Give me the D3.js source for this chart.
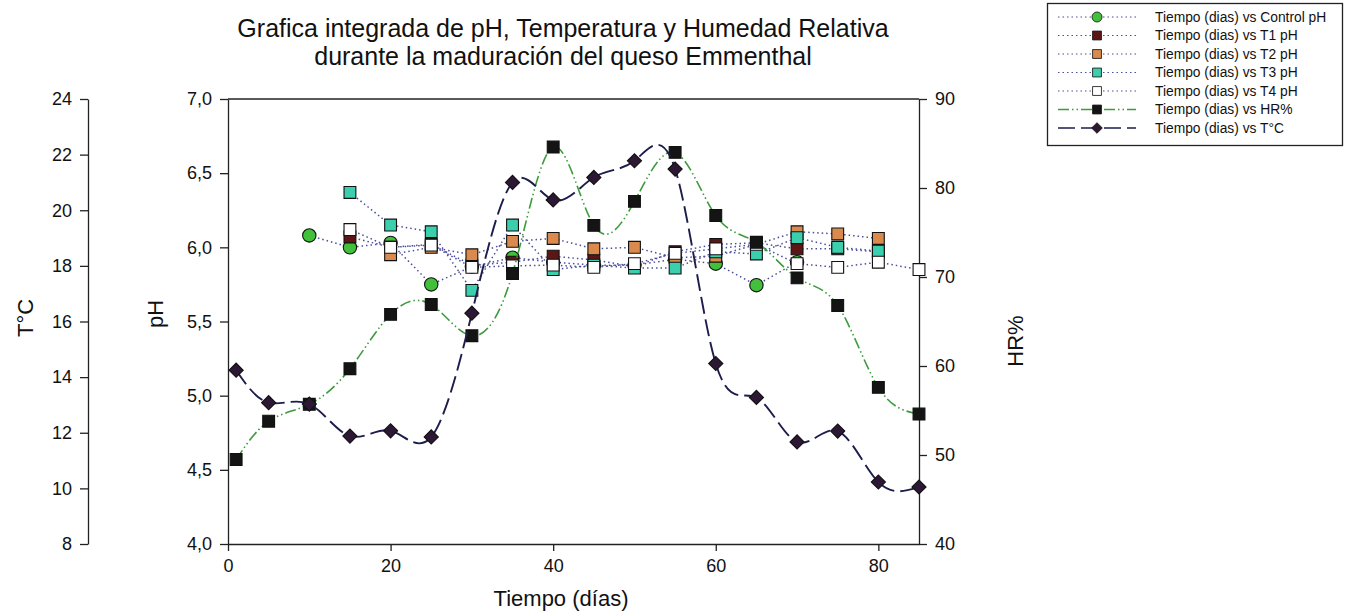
<!DOCTYPE html>
<html>
<head>
<meta charset="utf-8">
<script src="https://cdn.jsdelivr.net/npm/d3@7"></script>
<style>
  body { margin: 0; background: #fff; }
  svg text { font-family: "Liberation Sans", Arial, sans-serif; fill: #111; }
  .axis path, .axis line { stroke: #222; stroke-width: 1.3px; }
  .axis text { font-size: 18px; }
</style>
</head>
<body>
<svg id="chart"></svg>
<script>
// ---- data ----
const controlDays = [10, 15, 20, 25, 30, 35, 40, 45, 50, 55, 60, 65, 70];
const controlPH = [6.08, 6.0, 6.03, 5.75, 5.87, 5.93, 5.9, 5.88, 5.88, 5.92, 5.89, 5.745, 5.9];

const t1Days = [15, 20, 25, 30, 35, 40, 45, 50, 55, 60, 65, 70, 75, 80];
const t1PH = [6.07, 6.0, 6.02, 5.88, 5.9, 5.94, 5.915, 5.87, 5.97, 6.02, 6.03, 5.99, 5.99, 5.97];

const t2Days = [20, 25, 30, 35, 40, 45, 50, 55, 60, 65, 70, 75, 80];
const t2PH = [5.95, 6.0, 5.95, 6.04, 6.06, 5.99, 6.0, 5.93, 5.94, 6.02, 6.105, 6.09, 6.06];

const t3Days = [15, 20, 25, 30, 35, 40, 45, 50, 55, 60, 65, 70, 75, 80];
const t3PH = [6.37, 6.15, 6.105, 5.71, 6.15, 5.85, 5.88, 5.86, 5.86, 5.97, 5.955, 6.065, 6.0, 5.975];

const t4Days = [15, 20, 25, 30, 35, 40, 45, 50, 55, 60, 65, 70, 75, 80, 85];
const t4PH = [6.12, 6.0, 6.015, 5.865, 5.875, 5.88, 5.865, 5.89, 5.96, 5.99, 6.02, 5.89, 5.865, 5.9, 5.85];

const envDays = [1, 5, 10, 15, 20, 25, 30, 35, 40, 45, 50, 55, 60, 65, 70, 75, 80, 85];
const hrValues = [49.5, 53.8, 55.7, 59.7, 65.8, 66.9, 63.4, 70.4, 84.6, 75.8, 78.5, 84, 76.9, 73.9, 69.9, 66.8, 57.6, 54.6];
const tempValues = [14.25, 13.08, 13.03, 11.88, 12.07, 11.85, 16.3, 21.0, 20.37, 21.18, 21.78, 21.48, 14.49, 13.27, 11.67, 12.06, 10.23, 10.05];

const xTicks = [0, 20, 40, 60, 80];
const phTicks = [4.0, 4.5, 5.0, 5.5, 6.0, 6.5, 7.0];
const tempTicks = [8, 10, 12, 14, 16, 18, 20, 22, 24];
const hrTicks = [40, 50, 60, 70, 80, 90];

const titleLines = [
  "Grafica integrada de pH, Temperatura y Humedad Relativa",
  "durante la maduración del queso Emmenthal",
];

// ---- layout ----
const totalWidth = 1351;
const totalHeight = 616;
const plot = { left: 228, right: 919, top: 99, bottom: 544 };
const tempAxisX = 88;

const svg = d3.select("#chart").attr("width", totalWidth).attr("height", totalHeight);

// scales
const xScale = d3.scaleLinear().domain([0, 85]).range([plot.left, plot.right]);
const phScale = d3.scaleLinear().domain([4, 7]).range([plot.bottom, plot.top]);
const tempScale = d3.scaleLinear().domain([8, 24]).range([plot.bottom, plot.top]);
const hrScale = d3.scaleLinear().domain([40, 90]).range([plot.bottom, plot.top]);

const commaFmt = (d) => d3.format(".1f")(d).replace(".", ",");

// frame top line
svg.append("line")
  .attr("x1", plot.left).attr("x2", plot.right)
  .attr("y1", plot.top).attr("y2", plot.top)
  .attr("stroke", "#222").attr("stroke-width", 1.3);

// axes
svg.append("g").attr("class", "axis")
  .attr("transform", `translate(0,${plot.bottom})`)
  .call(d3.axisBottom(xScale).tickValues(xTicks).tickSize(7).tickPadding(5).tickSizeOuter(0))
  .selectAll("text").attr("dy", "0.9em");

svg.append("g").attr("class", "axis")
  .attr("transform", `translate(${plot.left},0)`)
  .call(d3.axisLeft(phScale).tickValues(phTicks).tickFormat(commaFmt).tickSize(8).tickPadding(8).tickSizeOuter(0));

svg.append("g").attr("class", "axis")
  .attr("transform", `translate(${tempAxisX},0)`)
  .call(d3.axisLeft(tempScale).tickValues(tempTicks).tickSize(8).tickPadding(8).tickSizeOuter(0));

svg.append("g").attr("class", "axis")
  .attr("transform", `translate(${plot.right},0)`)
  .call(d3.axisRight(hrScale).tickValues(hrTicks).tickSize(8).tickPadding(8).tickSizeOuter(0));

// axis titles
const axisTitle = (x, y, rot, text) =>
  svg.append("text")
    .attr("transform", `translate(${x},${y}) rotate(${rot})`)
    .attr("text-anchor", "middle")
    .style("font-size", "22px")
    .text(text);
axisTitle(33, 318, -90, "T°C");
axisTitle(163, 314, -90, "pH");
axisTitle(1023, 341, -90, "HR%");
axisTitle(561, 606, 0, "Tiempo (días)");

// chart title
svg.append("g").selectAll("text")
  .data(titleLines)
  .enter()
  .append("text")
  .attr("x", 563)
  .attr("y", (d, i) => 37 + i * 28)
  .attr("text-anchor", "middle")
  .style("font-size", "25px")
  .text((d) => d);

// ---- series definitions ----
const phLine = "#4b4f9a";
const series = [
  { name: "Tiempo (dias) vs Control pH", days: controlDays, values: controlPH, y: phScale,
    shape: "circle", fill: "#42c03c", stroke: phLine, dash: "1.5,3", width: 1.5, curve: d3.curveLinear },
  { name: "Tiempo (dias) vs T1 pH", days: t1Days, values: t1PH, y: phScale,
    shape: "square", fill: "#5c1616", stroke: phLine, dash: "1.5,3", width: 1.5, curve: d3.curveLinear },
  { name: "Tiempo (dias) vs T2 pH", days: t2Days, values: t2PH, y: phScale,
    shape: "square", fill: "#d98a4c", stroke: phLine, dash: "1.5,3", width: 1.5, curve: d3.curveLinear },
  { name: "Tiempo (dias) vs T3 pH", days: t3Days, values: t3PH, y: phScale,
    shape: "square", fill: "#3ccfae", stroke: phLine, dash: "1.5,3", width: 1.5, curve: d3.curveLinear },
  { name: "Tiempo (dias) vs T4 pH", days: t4Days, values: t4PH, y: phScale,
    shape: "square", fill: "#ffffff", stroke: phLine, dash: "1.5,3", width: 1.5, curve: d3.curveLinear },
  { name: "Tiempo (dias) vs HR%", days: envDays, values: hrValues, y: hrScale,
    shape: "square", fill: "#141414", stroke: "#3d9a3d", dash: "11,3,1.5,3,1.5,3", width: 1.6, curve: d3.curveNatural },
  { name: "Tiempo (dias) vs T°C", days: envDays, values: tempValues, y: tempScale,
    shape: "diamond", fill: "#2c1834", stroke: "#1d1d4d", dash: "17,6", width: 1.9, curve: d3.curveNatural },
];

const symbolPath = (shape) => {
  if (shape === "circle") return d3.symbol(d3.symbolCircle, 140)();
  if (shape === "diamond") return d3.symbol(d3.symbolSquare, 100)();
  return d3.symbol(d3.symbolSquare, 140)();
};

const drawMarker = (g, s, x, y) =>
  g.append("path")
    .attr("d", symbolPath(s.shape))
    .attr("transform", `translate(${x},${y})` + (s.shape === "diamond" ? " rotate(45)" : ""))
    .attr("fill", s.fill)
    .attr("stroke", "#111")
    .attr("stroke-width", 1.1);

// ---- render series ----
const seriesLayer = svg.append("g").attr("class", "series");
series.forEach((s) => {
  const pts = s.days.map((d, i) => ({ day: d, value: s.values[i] }));
  const line = d3.line()
    .x((d) => xScale(d.day))
    .y((d) => s.y(d.value))
    .curve(s.curve);
  const g = seriesLayer.append("g");
  g.append("path")
    .attr("d", line(pts))
    .attr("fill", "none")
    .attr("stroke", s.stroke)
    .attr("stroke-width", s.width)
    .attr("stroke-dasharray", s.dash);
  pts.forEach((p) => drawMarker(g, s, xScale(p.day), s.y(p.value)));
});

// ---- legend ----
const legend = svg.append("g").attr("class", "legend");
legend.append("rect")
  .attr("x", 1047.5).attr("y", 3.5)
  .attr("width", 295).attr("height", 142)
  .attr("fill", "#fff").attr("stroke", "#222").attr("stroke-width", 1.3);

series.forEach((s, i) => {
  const y = 17 + i * 18.5;
  legend.append("line")
    .attr("x1", 1058).attr("x2", 1136)
    .attr("y1", y).attr("y2", y)
    .attr("stroke", s.stroke)
    .attr("stroke-width", s.width * 0.8)
    .attr("stroke-dasharray", s.dash);
  const m = drawMarker(legend, s, 1097, y);
  m.attr("transform", `translate(1097,${y}) scale(0.75)` + (s.shape === "diamond" ? " rotate(45)" : ""));
  legend.append("text")
    .attr("x", 1155).attr("y", y)
    .attr("dy", "0.35em")
    .style("font-size", "13.8px")
    .text(s.name);
});
</script>
</body>
</html>
